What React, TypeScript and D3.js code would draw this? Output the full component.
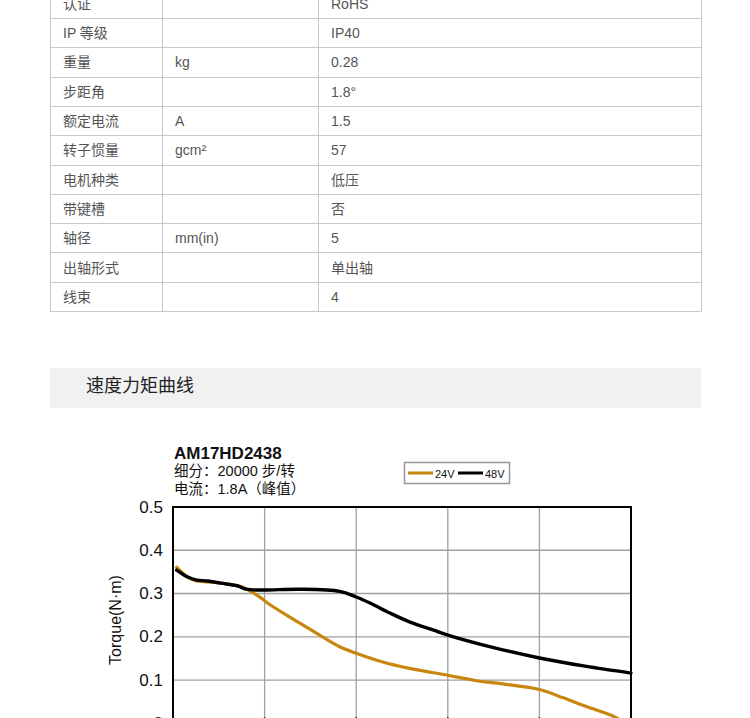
import React from "react";
import * as d3 from "d3";

// ---- Table data ----
const paramNames = ["认证", "IP 等级", "重量", "步距角", "额定电流", "转子惯量", "电机种类", "带键槽", "轴径", "出轴形式", "线束"];
const paramUnits = ["", "", "kg", "", "A", "gcm²", "", "", "mm(in)", "", ""];
const paramValues = ["RoHS", "IP40", "0.28", "1.8°", "1.5", "57", "低压", "否", "5", "单出轴", "4"];

// ---- Chart data ----
const chartTitle = "AM17HD2438";
const chartSub1 = "细分：20000 步/转";
const chartSub2 = "电流：1.8A（峰值）";
const sectionTitle = "速度力矩曲线";
const seriesNames = ["24V", "48V"];
const seriesColors = ["#c8860f", "#000000"];

const speed24 = [0.2, 0.8, 1.3, 2.2, 3.1, 3.8, 4.2, 4.8, 5.3, 6.9, 8.0, 9.1, 10, 11.5, 12.9, 15, 16.5, 18, 20, 21.3, 22.6, 24, 24.7];
const torque24 = [0.361, 0.338, 0.329, 0.326, 0.321, 0.315, 0.306, 0.29, 0.274, 0.232, 0.204, 0.177, 0.162, 0.141, 0.127, 0.111, 0.099, 0.091, 0.078, 0.059, 0.038, 0.017, 0.0];
const speed48 = [0.2, 0.8, 1.3, 1.9, 2.6, 3.5, 4.0, 4.9, 6.9, 9.1, 10, 10.75, 11.84, 12.94, 14.19, 15, 17.5, 20, 22.5, 25];
const torque48 = [0.354, 0.338, 0.331, 0.329, 0.324, 0.318, 0.31, 0.308, 0.31, 0.305, 0.292, 0.278, 0.255, 0.234, 0.216, 0.204, 0.175, 0.151, 0.132, 0.116];

const yTicks = [0, 0.1, 0.2, 0.3, 0.4, 0.5];
const xTicks = [0, 5, 10, 15, 20, 25];

const FONT = "'Liberation Sans', Arial, 'Noto Sans CJK SC', sans-serif";

export default function App() {
  const W = 750, H = 718;
  const tL = 50, tR = 701;
  const colX = [50, 162, 318, 701];
  const rowH = 29.3;
  const rowTop0 = 18 - rowH;

  const x = d3.scaleLinear().domain([0, 25]).range([173, 631]);
  const y = d3.scaleLinear().domain([0, 0.5]).range([723.3, 507]);
  const line = d3.line<[number, number]>()
    .x(d => x(d[0]))
    .y(d => y(d[1]))
    .curve(d3.curveCatmullRom.alpha(0.5));
  const d24 = line(speed24.map((s, i) => [s, torque24[i]] as [number, number])) || "";
  const d48 = line(speed48.map((s, i) => [s, torque48[i]] as [number, number])) || "";

  return (
    <svg width={W} height={H} style={{ position: "absolute", left: 0, top: 0, background: "#fff" }} fontFamily={FONT}>
      <rect x={0} y={0} width={W} height={H} fill="#fff" />
      {/* Table */}
      <g>
        {paramNames.map((n, i) => {
          const top = rowTop0 + i * rowH;
          const cy = top + rowH / 2 + 0.5;
          return (
            <g key={i}>
              <text x={63} y={cy} dominantBaseline="central" fontSize={14} fill="#555">{n}</text>
              <text x={175} y={cy} dominantBaseline="central" fontSize={14} fill="#555">{paramUnits[i]}</text>
              <text x={331} y={cy} dominantBaseline="central" fontSize={14} fill="#555">{paramValues[i]}</text>
            </g>
          );
        })}
        {paramNames.map((_, i) => {
          const yy = Math.round(rowTop0 + (i + 1) * rowH) + 0.5;
          return <line key={i} x1={tL} x2={tR} y1={yy} y2={yy} stroke="#c8c8c8" strokeWidth={1} />;
        })}
        {colX.map((cx, i) => (
          <line key={i} x1={cx + 0.5} x2={cx + 0.5} y1={0} y2={311.5} stroke="#c8c8c8" strokeWidth={1} />
        ))}
      </g>

      {/* Section header */}
      <rect x={50} y={368} width={651} height={40} fill="#f1f1f1" />
      <text x={86} y={386} dominantBaseline="central" fontSize={18} fill="#222">{sectionTitle}</text>

      {/* Chart header */}
      <text x={174} y={459} fontSize={17} fontWeight="bold" fill="#111" fontFamily="'Liberation Sans', Arial, sans-serif">{chartTitle}</text>
      <text x={174} y={476} fontSize={14.5} fill="#111">{chartSub1}</text>
      <text x={174} y={494} fontSize={14.5} fill="#111">{chartSub2}</text>

      {/* Legend */}
      <rect x={404.5} y={462.5} width={105} height={21} fill="#fff" stroke="#999" strokeWidth={1.5} />
      <line x1={408} x2={433} y1={473} y2={473} stroke={seriesColors[0]} strokeWidth={3} />
      <text x={435} y={473.5} dominantBaseline="central" fontSize={11} fill="#111">{seriesNames[0]}</text>
      <line x1={458} x2={483} y1={473} y2={473} stroke={seriesColors[1]} strokeWidth={3} />
      <text x={485} y={473.5} dominantBaseline="central" fontSize={11} fill="#111">{seriesNames[1]}</text>

      {/* Grid */}
      {xTicks.slice(1, -1).map(t => (
        <line key={"gx" + t} x1={x(t)} x2={x(t)} y1={y(0.5)} y2={y(0)} stroke="#a0a0a0" strokeWidth={1.3} />
      ))}
      {yTicks.slice(1, -1).map(t => (
        <line key={"gy" + t} x1={x(0)} x2={x(25)} y1={y(t)} y2={y(t)} stroke="#a0a0a0" strokeWidth={1.3} />
      ))}
      {xTicks.slice(1, -1).map(t => (
        <line key={"tx" + t} x1={x(t)} x2={x(t)} y1={y(0) - 6} y2={y(0)} stroke="#000" strokeWidth={1.5} />
      ))}

      {/* Curves */}
      <path d={d24} fill="none" stroke={seriesColors[0]} strokeWidth={3.2} strokeLinejoin="round" strokeLinecap="round" />
      <path d={d48} fill="none" stroke={seriesColors[1]} strokeWidth={3.4} strokeLinejoin="round" strokeLinecap="round" />

      {/* Frame */}
      <rect x={x(0)} y={y(0.5)} width={x(25) - x(0)} height={y(0) - y(0.5)} fill="none" stroke="#000" strokeWidth={2} />

      {/* Y ticks */}
      {yTicks.map(t => (
        <text key={"yl" + t} x={163} y={y(t)} dominantBaseline="central" textAnchor="end" fontSize={17} fill="#111">
          {t === 0 ? "0" : d3.format(".1f")(t)}
        </text>
      ))}
      <text transform={`translate(121,620) rotate(-90)`} textAnchor="middle" fontSize={16} fill="#111">Torque(N·m)</text>
    </svg>
  );
}
